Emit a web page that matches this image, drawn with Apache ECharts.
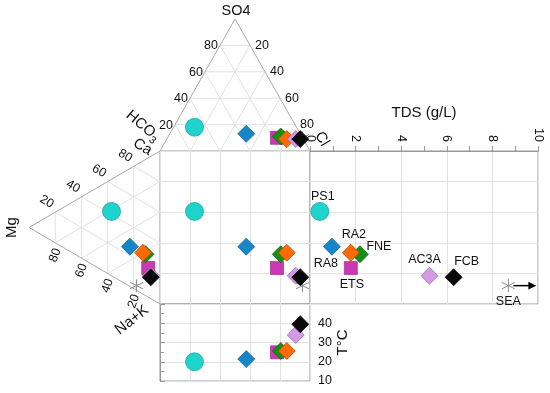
<!DOCTYPE html>
<html><head><meta charset="utf-8">
<script src="https://cdn.jsdelivr.net/npm/echarts@6/dist/echarts.min.js"></script>
<style>html,body{margin:0;padding:0;background:#fff}#c{width:550px;height:393px}</style>
</head><body><div id="c"></div>
<script>
// ---------- data ----------
const names = ['PS1','RA8','ETS','FNE','RA2','AC3A','FCB','SEA'];
// cations (% meq)
const ca  = [42, 26, 19, 27, 27, 15, 14, 3];
const mg  = [37, 23,  9, 11, 13,  7,  7, 18];
const nak = [21, 51, 72, 62, 60, 78, 79, 79];
// anions (% meq)
const hco3 = [68, 36, 17, 14, 11, 5, 2, 0];
const so4  = [18, 13, 10, 11,  9, 9, 9, 10];
const cl   = [14, 51, 73, 75, 80, 86, 89, 90];
// TDS (g/L) as plotted (SEA is off-scale, drawn at the right with an arrow)
const tds  = [0.43, 0.96, 1.79, 2.19, 1.79, 5.24, 6.30, 8.7];
// temperature (°C)
const temp = [20.0, 21.4, 24.9, 25.6, 25.6, 33.9, 39.5, null];
const triTicks = [20, 40, 60, 80];

// ---------- styles ----------
const FONT = '"Liberation Sans", Arial, sans-serif';
const STAR = 'path://M0,-6L0,6M-5.2,-3L5.2,3M-5.2,3L5.2,-3';
const STYLE = {
  PS1:  {symbol:'circle',  size:18, fill:'#1fd3cd', stroke:'#129a96'},
  RA8:  {symbol:'diamond', size:17, fill:'#1587c8', stroke:'#0e5f90'},
  ETS:  {symbol:'rect',    size:13, fill:'#cc38b3', stroke:'#a02a8c'},
  FNE:  {symbol:'diamond', size:17, fill:'#149014', stroke:'#0b640b'},
  RA2:  {symbol:'diamond', size:17, fill:'#ff6a05', stroke:'#b04700'},
  AC3A: {symbol:'diamond', size:17, fill:'#d49ae6', stroke:'#9060a6'},
  FCB:  {symbol:'diamond', size:17, fill:'#0a0a0a', stroke:'#000000'},
  SEA:  {symbol:STAR,      size:13, fill:'rgba(0,0,0,0)', stroke:'#8a8a8a'}
};
const LABEL_OFF = {PS1:[3,-15], RA8:[-6,17], ETS:[1,17], FNE:[19,-8], RA2:[3,-18], AC3A:[-5,-16], FCB:[13,-16], SEA:[0,16]};
const GRIDC = '#e2e2e2', EDGEC = '#a8a8a8';
// triangle sizes in square units (square = 100 x 100)
const TOP_H = 86.3, LEFT_W = 87.3;

// ---------- ternary transforms ----------
const topXY  = (s, c) => [100*c + 50*s, -TOP_H*s];          // s = SO4 fraction, c = Cl fraction
const leftXY = (m, n) => [-LEFT_W*m, 100*n + 50*m];         // m = Mg fraction, n = Na+K fraction
const anion  = i => topXY(so4[i]/100, cl[i]/100);
const cation = i => leftXY(mg[i]/100, nak[i]/100);

function item(i, xy, withLabel){
  const st = STYLE[names[i]];
  const o = {name:names[i], value:xy, symbol:st.symbol, symbolSize:st.size,
    itemStyle:{color:st.fill, borderColor:st.stroke, borderWidth: names[i]==='SEA'?1:0.7, opacity:1}};
  if (withLabel) o.label = {show:true, position:'inside', offset:LABEL_OFF[names[i]],
    formatter:names[i], color:'#111', fontSize:12.5, fontFamily:FONT};
  return o;
}
const idx = names.map((_, i) => i);
const triData = [], sqData = [], tdsData = [], tData = [];
idx.forEach(i => { triData.push(item(i, anion(i))); });
idx.forEach(i => { triData.push(item(i, cation(i))); });
idx.forEach(i => { sqData.push(item(i, [anion(i)[0], cation(i)[1]])); });
idx.forEach(i => { tdsData.push(item(i, [tds[i], cation(i)[1]], true)); });
idx.forEach(i => { if (temp[i] != null) tData.push(item(i, [anion(i)[0], temp[i]])); });
// draw SEA first (behind)
[triData, sqData, tdsData].forEach(a => a.sort((p, q) => (p.name==='SEA'?-1:0) - (q.name==='SEA'?-1:0)));

function structure(params, api){
  const P = xy => api.coord(xy);
  const ch = [];
  const line = (a, b, color) => { const p = P(a), q = P(b);
    ch.push({type:'line', silent:true, shape:{x1:p[0],y1:p[1],x2:q[0],y2:q[1]}, style:{stroke:color, lineWidth:1}}); };
  const text = (str, pt, dx, dy, rot, size) => { const p = P(pt);
    ch.push({type:'text', silent:true, x:p[0]+dx, y:p[1]+dy, rotation:(rot||0)*Math.PI/180,
      style:{text:str, fill:'#111', fontSize:size, fontFamily:FONT, align:'center', verticalAlign:'middle'}}); };
  triTicks.forEach(k => { const f = k/100;
    // top (anion) triangle grid
    line(topXY(f,0), topXY(f,1-f), GRIDC);
    line(topXY(0,f), topXY(1-f,f), GRIDC);
    line(topXY(0,1-f), topXY(1-f,0), GRIDC);
    // left (cation) triangle grid
    line(leftXY(f,0), leftXY(f,1-f), GRIDC);
    line(leftXY(0,f), leftXY(1-f,f), GRIDC);
    line(leftXY(0,1-f), leftXY(1-f,0), GRIDC);
  });
  // outlines
  line(topXY(0,0), topXY(1,0), EDGEC);
  line(topXY(0,1), topXY(1,0), EDGEC);
  line(leftXY(0,0), leftXY(1,0), EDGEC);
  line(leftXY(0,1), leftXY(1,0), EDGEC);
  // tick labels
  triTicks.forEach(k => { const f = k/100;
    text(String(k), topXY(f,0), -9, 0.5, 0, 12.5);
    text(String(100-k), topXY(f,1-f), 12, 0, 0, 12.5);
    text(String(100-k), leftXY(f,0), -8.5, -10.5, -30, 12.5);
    text(String(k), leftXY(f,1-f), 0, 12.5, 70, 12.5);
  });
  // axis titles
  text('SO4', topXY(1,0), 1, -8, 0, 14.5);
  text('Cl', topXY(0,1), 12, -12, -60, 15);
  text('Ca', leftXY(0,0), -17.5, -4, -30, 15);
  text('Mg', leftXY(1,0), -17, 0, 90, 15);
  text('Na+K', leftXY(0,1), -28, 16, 38, 15);
  const h = P(topXY(0,0));
  ch.push({type:'group', x:h[0]-17, y:h[1]-25, rotation:-40*Math.PI/180, silent:true, children:[
    {type:'text', x:-3, y:0, style:{text:'HCO', fill:'#111', fontSize:15, fontFamily:FONT, align:'center', verticalAlign:'middle'}},
    {type:'text', x:16.5, y:5, style:{text:'3', fill:'#111', fontSize:10.5, fontFamily:FONT, align:'center', verticalAlign:'middle'}}
  ]});
  return {type:'group', children:ch};
}

function arrow(params, api){
  const p = api.coord([api.value(0), api.value(1)]);
  return {type:'group', children:[
    {type:'line', shape:{x1:p[0]+5, y1:p[1], x2:p[0]+22, y2:p[1]}, style:{stroke:'#000', lineWidth:1.5}},
    {type:'polygon', shape:{points:[[p[0]+28,p[1]],[p[0]+20,p[1]-3.8],[p[0]+20,p[1]+3.8]]}, style:{fill:'#000'}}
  ]};
}
const seaI = names.indexOf('SEA');

const hideAxis = {axisLine:{show:false}, axisTick:{show:false}, axisLabel:{show:false}};
const split = {show:true, lineStyle:{color:GRIDC, width:1}};

const option = {
  animation:false,
  backgroundColor:'#fff',
  textStyle:{fontFamily:FONT},
  grid:[
    {left:160, top:151, width:150, height:153, show:true, borderColor:'#999', borderWidth:1, backgroundColor:'transparent'},
    {left:310, top:151, width:228, height:153, show:true, borderColor:'#999', borderWidth:1, backgroundColor:'transparent'},
    {left:160, top:304, width:150, height:77, show:true, borderColor:'#999', borderWidth:1, backgroundColor:'transparent'}
  ],
  xAxis:[
    Object.assign({type:'value', gridIndex:0, min:0, max:100, interval:20, splitLine:split}, hideAxis),
    {type:'value', gridIndex:1, min:0, max:10, interval:2, position:'top',
      name:'TDS (g/L)', nameLocation:'middle', nameGap:31, nameTextStyle:{fontSize:15, color:'#111', fontFamily:FONT},
      axisLine:{show:true, lineStyle:{color:'#999'}},
      axisTick:{show:true, length:5, lineStyle:{color:'#999'}},
      minorTick:{show:true, splitNumber:2, length:5, lineStyle:{color:'#999'}},
      axisLabel:{rotate:-90, fontSize:12.5, color:'#111', margin:9, fontFamily:FONT},
      splitLine:split},
    Object.assign({type:'value', gridIndex:2, min:0, max:100, interval:20, splitLine:split}, hideAxis)
  ],
  yAxis:[
    Object.assign({type:'value', gridIndex:0, min:0, max:100, interval:20, inverse:true, splitLine:split}, hideAxis),
    Object.assign({type:'value', gridIndex:1, min:0, max:100, interval:20, inverse:true, splitLine:split}, hideAxis),
    {type:'value', gridIndex:2, min:10, max:50, interval:10, position:'right',
      name:'T°C', nameLocation:'middle', nameGap:18, nameRotate:90, nameTextStyle:{fontSize:15, color:'#111', fontFamily:FONT},
      axisLine:{show:true, lineStyle:{color:'#999'}},
      axisTick:{show:true, length:5, lineStyle:{color:'#999'}},
      minorTick:{show:true, splitNumber:2, length:4, lineStyle:{color:'#999'}},
      axisLabel:{fontSize:12.5, color:'#111', margin:8, fontFamily:FONT, formatter: v => v === 50 ? '' : String(v)},
      splitLine:split}
  ],
  series:[
    {type:'custom', xAxisIndex:0, yAxisIndex:0, data:[[0,0]], renderItem:structure, z:1, silent:true},
    {type:'scatter', xAxisIndex:0, yAxisIndex:0, data:triData, clip:false, z:3},
    {type:'scatter', xAxisIndex:0, yAxisIndex:0, data:sqData, clip:false, z:3},
    {type:'scatter', xAxisIndex:1, yAxisIndex:1, data:tdsData, clip:false, z:3},
    {type:'custom', xAxisIndex:1, yAxisIndex:1, data:[[tds[seaI], cation(seaI)[1]]], renderItem:arrow, z:4, silent:true},
    {type:'scatter', xAxisIndex:2, yAxisIndex:2, data:tData, clip:false, z:3}
  ]
};
const chart = echarts.init(document.getElementById('c'), null, {renderer:'canvas', width:550, height:393});
chart.setOption(option);
</script>
</body></html>
